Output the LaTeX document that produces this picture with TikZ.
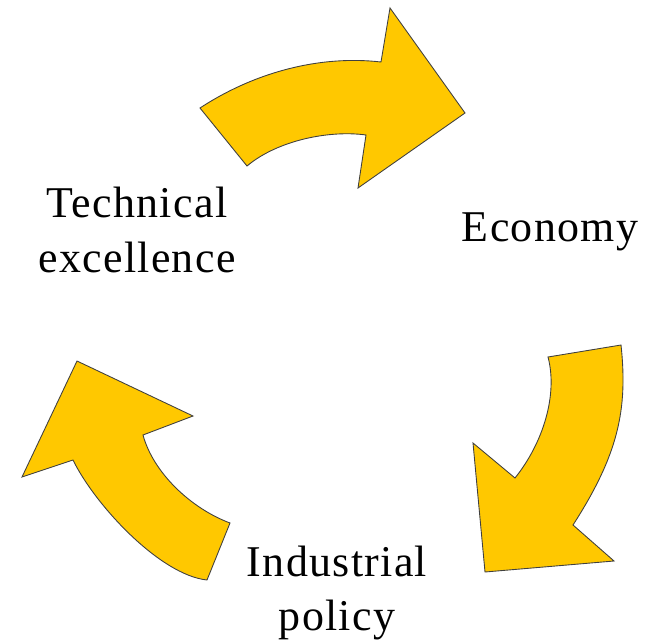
\documentclass[tikz,border=0pt]{standalone}
\usepackage{fontspec}
\setmainfont{Liberation Serif}[LetterSpace=3]
\definecolor{arrowgold}{RGB}{255,200,0}
\begin{document}
\begin{tikzpicture}[x=0.02cm,y=-0.02cm,
    curvearrow/.style={fill=arrowgold,draw=black!75,line width=0.5pt,line join=miter},
    label/.style={align=center,font=\fontsize{25}{31}\selectfont,inner sep=0pt}]
  \useasboundingbox (0,0) rectangle (648,642);
  % the three labels
  \node[label] (tech) at (137,230) {Technical\\excellence};
  \node[label] (econ) at (550,232) {Economy};
  \node[label] (ind) at (337,593) {Industrial\\policy};
  % top arrow
  \draw[curvearrow] (200,108) -- (247,166)
    .. controls (278,140) and (330,130) .. (366,135)
    -- (358,188) -- (465,113) -- (390,8) -- (381,62)
    .. controls (320,55) and (255,72) .. cycle;
  % right arrow
  \draw[curvearrow] (548,357) -- (621,345)
    .. controls (628,410) and (618,455) .. (573,525)
    -- (614,561) -- (485,572) -- (473,443) -- (515,478)
    .. controls (543,443) and (558,395) .. cycle;
  % left arrow
  \draw[curvearrow] (77,361) -- (193,416) -- (143,435)
    .. controls (153,472) and (190,508) .. (230,523)
    -- (207,580)
    .. controls (160,575) and (95,505) .. (73,460)
    -- (22,477) -- cycle;
\end{tikzpicture}
\end{document}
